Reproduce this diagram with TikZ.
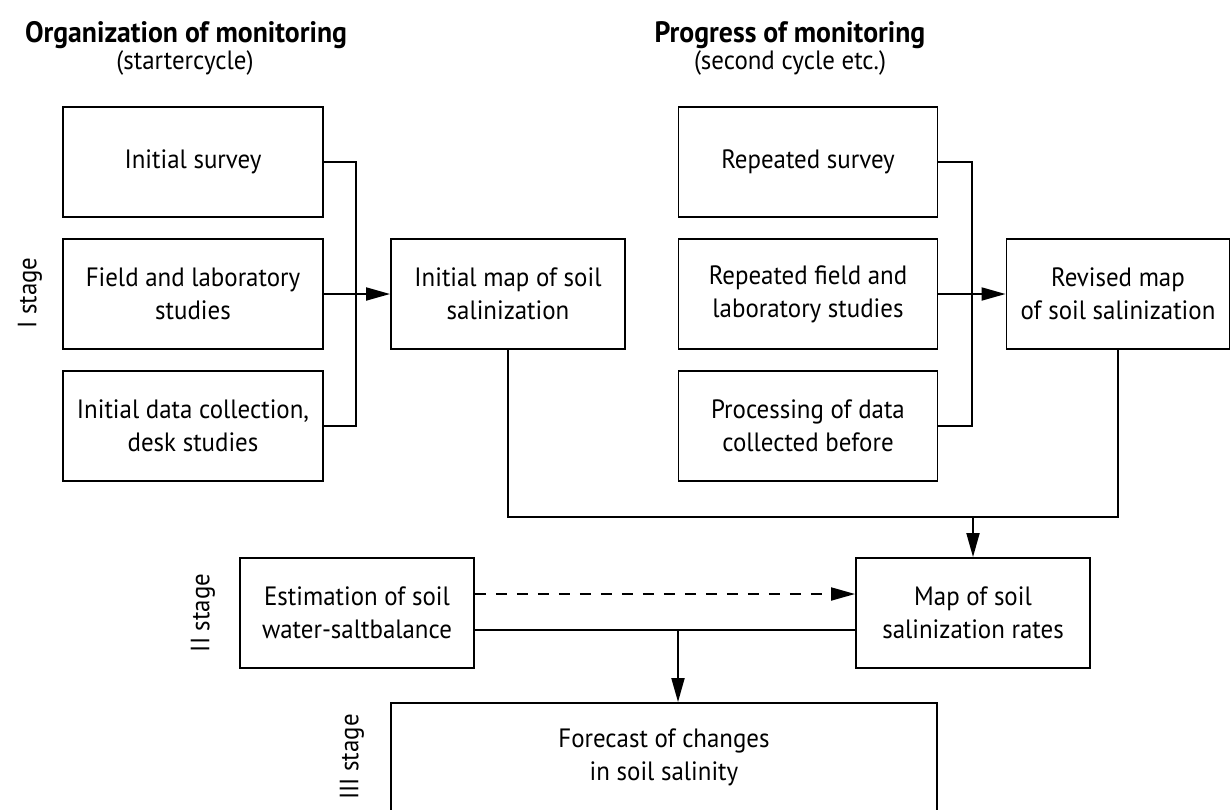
\documentclass[tikz,border=0pt]{standalone}
\usepackage{fontspec}
\setmainfont[FakeStretch=0.94]{PT Sans}
\usetikzlibrary{positioning}
\usetikzlibrary{arrows.meta, calc}

\begin{document}
\begin{tikzpicture}[x=1pt,y=-1pt,
    font=\fontsize{26.5}{33}\selectfont,
    line width=1.9pt,
    >={Triangle[length=24pt,width=13pt]},
    stagebox/.style={draw, align=center, inner sep=0pt, minimum height=110pt},
    headline/.style={font=\fontsize{29.5}{33}\selectfont\bfseries, anchor=base},
    stagelabel/.style={rotate=90}]
    \useasboundingbox (0,0) rectangle (1232,809);
    \clip (0,0) rectangle (1232,809);

    % headings
    \node[headline] (orghead) at (186,42) {Organization of monitoring};
    \node[anchor=base] (orgsub) at (185,69) {(startercycle)};
    \node[headline] (proghead) at (790,42) {Progress of monitoring};
    \node[anchor=base] (progsub) at (790,69) {(second cycle etc.)};

    % stages
    \node[stagelabel] (stageone) at (30,293) {I stage};
    \node[stagelabel] (stagetwo) at (203,613) {II stage};
    \node[stagelabel] (stagethree) at (352,757) {III stage};

    % start cycle
    \node[stagebox, minimum width=260pt] (survey) at (193,162) {Initial survey};
    \node[stagebox, minimum width=260pt] (field) at (193,294) {Field and laboratory\\studies};
    \node[stagebox, minimum width=260pt] (desk) at (193,426) {Initial data collection,\\desk studies};
    \node[stagebox, minimum width=234pt] (initmap) at (508,294) {Initial map of soil\\salinization};

    % second cycle
    \node[stagebox, minimum width=259pt] (resurvey) at (808,162) {Repeated survey};
    \node[stagebox, minimum width=259pt] (refield) at (808,294) {Repeated field and\\laboratory studies};
    \node[stagebox, minimum width=259pt] (process) at (808,426) {Processing of data\\collected before};
    \node[stagebox, minimum width=223pt] (revmap) at (1118,294) {Revised map\\of soil salinization};

    % rates, balance, forecast
    \node[stagebox, minimum width=234pt] (rates) at (973,613) {Map of soil\\salinization rates};
    \node[stagebox, minimum width=234pt] (balance) at (357,613) {Estimation of soil\\water-saltbalance};
    \node[stagebox, minimum width=546pt, minimum height=108pt] (forecast) at (664,757) {Forecast of changes\\in soil salinity};

    % start cycle links
    \coordinate (joinone) at (356,294);
    \draw (survey.east) -| (joinone) |- (desk.east);
    \draw[->] (field.east) -- (initmap.west);

    % second cycle links
    \coordinate (jointwo) at (972,294);
    \draw (resurvey.east) -| (jointwo) |- (process.east);
    \draw[->] (refield.east) -- (revmap.west);

    % maps to rates
    \coordinate (joinmaps) at (973,517);
    \draw (initmap.south) |- (joinmaps) -| (revmap.south);
    \draw[->] (joinmaps) -- (rates.north);

    % balance and rates to forecast
    \draw[->, dash pattern=on 11pt off 10pt] ([yshift=19pt]balance.east) -- ([yshift=19pt]balance.east -| rates.west);
    \draw ([yshift=-17pt]balance.east) -- ([yshift=-17pt]balance.east -| rates.west);
    \coordinate (joinfore) at (678,630);
    \draw[->] (joinfore) -- (forecast.north -| joinfore);
\end{tikzpicture}
\end{document}
